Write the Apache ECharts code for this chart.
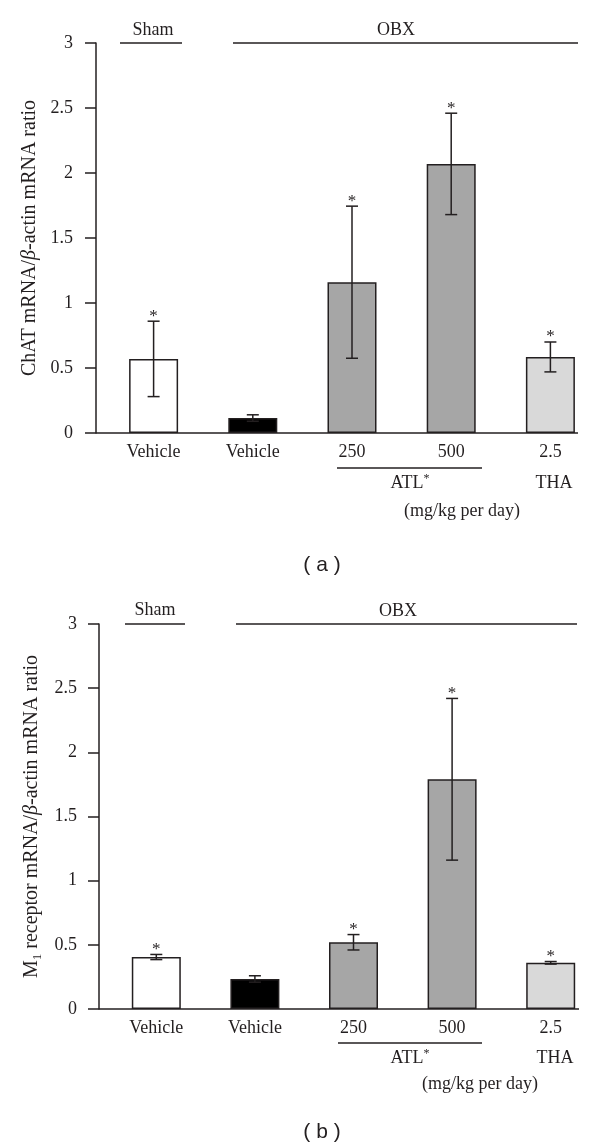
<!DOCTYPE html>
<html><head><meta charset="utf-8">
<script src="https://cdn.jsdelivr.net/npm/echarts/dist/echarts.min.js"></script>
<style>html,body{margin:0;padding:0;background:#fff}#c{width:600px;height:1147px}</style>
</head><body><div id="c"></div>
<script>
// ---- data ----
const categories = ['Vehicle', 'Vehicle', '250', '500', '2.5'];
const yMin = 0, yMax = 3, yStep = 0.5;
const chatMean = [0.57, 0.115, 1.16, 2.07, 0.585];
const chatErr  = [0.29, 0.025, 0.585, 0.39, 0.115];
const m1Mean   = [0.405, 0.234, 0.52, 1.79, 0.36];
const m1Err    = [0.02, 0.025, 0.06, 0.63, 0.01];
const significant = [true, false, true, true, true];
const barColors = ['#ffffff', '#000000', '#a6a6a6', '#a6a6a6', '#d9d9d9'];

// ---- style ----
const INK = '#231f20';
const SERIF = 'Liberation Serif';
const FS = 18;
const TFS = 20;

function barData(means) {
  return means.map((v, i) => ({ value: v, itemStyle: { color: barColors[i] } }));
}
function errData(means, errs) {
  return means.map((v, i) => [i, v, errs[i], significant[i] ? 1 : 0]);
}
function errRender(params, api) {
  const i = api.value(0), m = api.value(1), e = api.value(2), s = api.value(3);
  const top = api.coord([i, m + e]);
  const bot = api.coord([i, m - e]);
  const hw = 6;
  const st = { stroke: INK, lineWidth: 1.5 };
  const ch = [
    { type: 'line', shape: { x1: top[0], y1: top[1], x2: bot[0], y2: bot[1] }, style: st },
    { type: 'line', shape: { x1: top[0] - hw, y1: top[1], x2: top[0] + hw, y2: top[1] }, style: st },
    { type: 'line', shape: { x1: bot[0] - hw, y1: bot[1], x2: bot[0] + hw, y2: bot[1] }, style: st }
  ];
  if (s) ch.push({ type: 'text', style: { text: '*', x: top[0], y: top[1] - 5, align: 'center', verticalAlign: 'middle', font: '17px "Liberation Serif"', fill: INK } });
  return { type: 'group', children: ch };
}

function yAxisCfg(gi, name, offset, margin, gap) {
  return {
    type: 'value', gridIndex: gi, min: yMin, max: yMax, interval: yStep, offset: offset,
    axisLine: { show: true, lineStyle: { color: INK, width: 1.5 } },
    axisTick: { show: true, length: 11, lineStyle: { color: INK, width: 1.5 } },
    axisLabel: { color: INK, fontFamily: SERIF, fontSize: FS, margin: margin },
    splitLine: { show: false },
    name: name, nameLocation: 'middle', nameGap: gap, nameRotate: 90,
    nameTextStyle: {
      color: INK, fontFamily: SERIF, fontSize: TFS,
      rich: {
        n: { color: INK, fontFamily: SERIF, fontSize: TFS, lineHeight: 24 },
        i: { color: INK, fontFamily: SERIF, fontSize: TFS, fontStyle: 'italic', lineHeight: 24 },
        sub: { color: INK, fontFamily: SERIF, fontSize: 13, lineHeight: 13, verticalAlign: 'bottom' }
      }
    }
  };
}
function xAxisCfg(gi) {
  return {
    type: 'category', gridIndex: gi, data: categories,
    axisLine: { show: false }, axisTick: { show: false },
    axisLabel: { color: INK, fontFamily: SERIF, fontSize: FS, margin: 10, interval: 0 }
  };
}

function txt(x, y, t) {
  return { type: 'text', x: x, y: y, style: { text: t, fill: INK, font: FS + 'px "Liberation Serif"', align: 'center', verticalAlign: 'middle' } };
}
function ln(x1, y1, x2, y2) {
  return { type: 'line', shape: { x1: x1, y1: y1, x2: x2, y2: y2 }, style: { stroke: INK, lineWidth: 1.5 } };
}
function atl(x, y) {
  return { type: 'text', x: x, y: y, style: {
    text: '{a|ATL}{s|*}', align: 'center', verticalAlign: 'middle',
    rich: { a: { fill: INK, fontFamily: SERIF, fontSize: FS, lineHeight: 20 }, s: { fill: INK, fontFamily: SERIF, fontSize: 12, lineHeight: 12, verticalAlign: 'top' } } } };
}
function panelTag(x, y, t) {
  return { type: 'text', x: x, y: y, style: { text: t, fill: INK, font: '21px "Liberation Sans"', align: 'center', verticalAlign: 'middle' } };
}

const chart = echarts.init(document.getElementById('c'), null, { renderer: 'canvas' });
chart.setOption({
  animation: false,
  backgroundColor: '#ffffff',
  grid: [
    { left: 104, width: 502, top: 43, height: 390 },
    { left: 107, width: 500, top: 624, height: 385 }
  ],
  xAxis: [xAxisCfg(0), xAxisCfg(1)],
  yAxis: [
    yAxisCfg(0, '{n|ChAT mRNA/}{i|β}{n|-actin mRNA ratio}', 8, 23, 51),
    yAxisCfg(1, '{n|M}{sub|1}{n| receptor mRNA/}{i|β}{n|-actin mRNA ratio}', 8, 22, 54)
  ],
  series: [
    { type: 'bar', xAxisIndex: 0, yAxisIndex: 0, barWidth: 49, data: barData(chatMean),
      itemStyle: { borderColor: INK, borderWidth: 1.5 } },
    { type: 'custom', xAxisIndex: 0, yAxisIndex: 0, renderItem: errRender, data: errData(chatMean, chatErr), z: 5 },
    { type: 'bar', xAxisIndex: 1, yAxisIndex: 1, barWidth: 49, data: barData(m1Mean),
      itemStyle: { borderColor: INK, borderWidth: 1.5 } },
    { type: 'custom', xAxisIndex: 1, yAxisIndex: 1, renderItem: errRender, data: errData(m1Mean, m1Err), z: 5 }
  ],
  graphic: [
    // panel a
    ln(96, 433, 578, 433),
    txt(153, 30, 'Sham'), ln(120, 43, 182, 43),
    txt(396, 30, 'OBX'), ln(233, 43, 578, 43),
    ln(337, 468, 482, 468), atl(410, 483), txt(554, 483, 'THA'),
    txt(462, 511, '(mg/kg per day)'),
    panelTag(322, 565, '( a )'),
    // panel b
    ln(99, 1009, 579, 1009),
    txt(155, 610, 'Sham'), ln(125, 624, 185, 624),
    txt(398, 611, 'OBX'), ln(236, 624, 577, 624),
    ln(338, 1043, 482, 1043), atl(410, 1058), txt(555, 1058, 'THA'),
    txt(480, 1084, '(mg/kg per day)'),
    panelTag(322, 1132, '( b )')
  ]
});
</script></body></html>
